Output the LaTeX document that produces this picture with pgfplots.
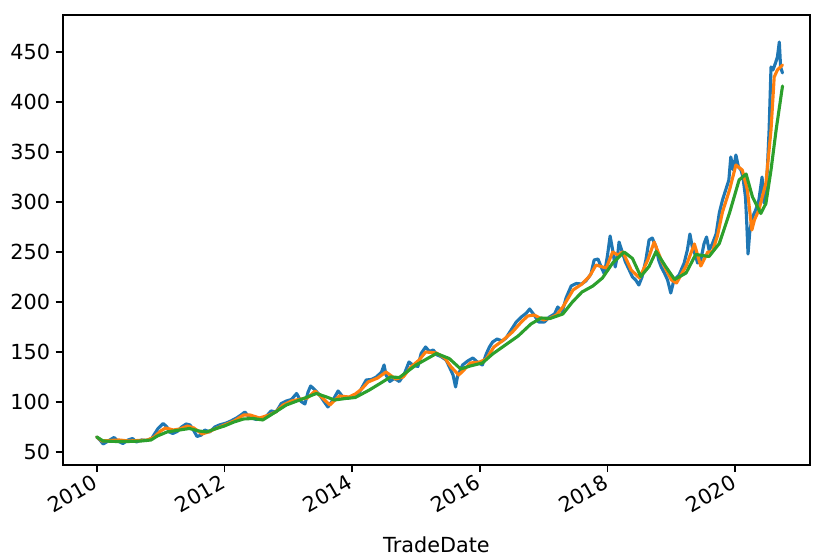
\documentclass[border=0pt]{standalone}
\usepackage{fontspec}
\setmainfont{DejaVu Sans}
\usepackage{pgfplots}
\pgfplotsset{compat=1.18}
\definecolor{tabblue}{HTML}{1F77B4}
\definecolor{taborange}{HTML}{FF7F0E}
\definecolor{tabgreen}{HTML}{2CA02C}
\begin{document}
\begin{tikzpicture}
\begin{axis}[
  at={(0,0)}, anchor=south west,
  scale only axis, width=358.6bp, height=216bp,
  xmin=2009.47, xmax=2021.17, ymin=37, ymax=487,
  xtick={2010,2012,2014,2016,2018,2020},
  ytick={50,100,150,200,250,300,350,400,450},
  /pgf/number format/1000 sep={},
  /pgf/number format/assume math mode=true,
  tick align=outside, major tick length=3.5pt,
  tick style={black, line width=0.8pt},
  axis line style={line width=0.8pt},
  xtick pos=bottom, ytick pos=left,
  tick label style={font=\fontsize{10}{12}\selectfont},
  xticklabel style={xshift=-2.2pt, yshift=1pt, rotate=30, anchor=north east, inner sep=1pt},
  yticklabel style={anchor=east, inner sep=1pt, xshift=-1.5pt},
  xlabel={TradeDate},
  xlabel style={at={(axis description cs:0.5,-0.178)}, anchor=center, font=\fontsize{10}{12}\selectfont},
  every axis plot/.append style={line width=1.5pt, line join=round, line cap=round},
  clip=true,
]
\addplot[tabblue] coordinates {
(2010.00,65) (2010.05,62) (2010.10,58) (2010.18,61) (2010.27,64.5) (2010.33,61) (2010.41,58.5) (2010.49,62) (2010.56,63.5) (2010.62,60) (2010.70,62) (2010.78,61.5) (2010.86,63.5) (2010.91,68.5) (2010.96,73.5)
(2011.04,78.5) (2011.10,75) (2011.14,70) (2011.19,68.5) (2011.26,70.5) (2011.33,75) (2011.40,78) (2011.46,77) (2011.51,72.5) (2011.57,65.5) (2011.64,67) (2011.69,72) (2011.77,70) (2011.85,75) (2011.92,77)
(2012.03,79) (2012.10,81) (2012.19,84) (2012.26,87) (2012.32,90) (2012.39,84.5) (2012.50,82.5) (2012.58,83.5) (2012.66,86) (2012.73,91) (2012.81,90) (2012.89,98.5) (2012.97,101)
(2013.05,102.5) (2013.13,108.5) (2013.20,100.5) (2013.26,98) (2013.31,110) (2013.35,116) (2013.41,112.5) (2013.49,107) (2013.57,99.5) (2013.62,95) (2013.70,102) (2013.78,111) (2013.85,105.5) (2013.93,103.5)
(2014.04,107) (2014.12,110.5) (2014.22,122) (2014.30,122.5) (2014.38,125) (2014.46,130) (2014.50,137) (2014.53,127) (2014.59,120.5) (2014.66,123.5) (2014.74,120.5) (2014.82,128.5) (2014.89,140) (2014.95,137)
(2015.03,135.5) (2015.08,148.5) (2015.15,155) (2015.21,150.5) (2015.27,152) (2015.33,147) (2015.39,145.5) (2015.47,142) (2015.52,135.5) (2015.58,127) (2015.62,115) (2015.65,125.5) (2015.73,137) (2015.81,141) (2015.89,144) (2015.97,139.5)
(2016.04,137) (2016.10,148) (2016.15,155) (2016.20,160) (2016.27,163) (2016.35,161) (2016.41,164) (2016.49,172) (2016.57,180) (2016.65,185) (2016.73,189) (2016.78,193) (2016.85,187) (2016.92,180)
(2017.01,180) (2017.09,185) (2017.17,188) (2017.22,195) (2017.29,190) (2017.35,204) (2017.43,216) (2017.51,218.5) (2017.59,218) (2017.66,221) (2017.74,228) (2017.79,242) (2017.85,243) (2017.90,235) (2017.95,228)
(2018.00,247) (2018.04,266) (2018.08,252) (2018.12,235) (2018.16,248) (2018.18,260) (2018.22,252) (2018.28,240) (2018.34,232) (2018.39,225) (2018.44,222) (2018.49,217) (2018.54,225) (2018.60,242) (2018.65,262) (2018.70,264) (2018.76,255) (2018.80,242) (2018.84,235) (2018.89,229) (2018.94,222) (2018.99,209)
(2019.04,222) (2019.12,227) (2019.20,239) (2019.25,252) (2019.29,268) (2019.33,254) (2019.38,246) (2019.41,239) (2019.46,242) (2019.51,258) (2019.55,265) (2019.59,252) (2019.64,258) (2019.70,268) (2019.75,289) (2019.80,302) (2019.85,312) (2019.90,322) (2019.93,345) (2019.97,332)
(2020.01,347) (2020.05,335) (2020.09,332) (2020.12,325) (2020.16,305) (2020.18,279) (2020.20,248) (2020.23,272) (2020.27,285) (2020.32,292) (2020.37,302) (2020.42,325) (2020.45,299) (2020.49,315) (2020.53,372) (2020.56,435) (2020.59,432) (2020.63,439) (2020.66,445) (2020.69,460) (2020.71,435) (2020.74,429)
};
\addplot[taborange] coordinates {
(2010.00,65) (2010.08,61) (2010.20,61.5) (2010.35,62) (2010.50,61) (2010.65,61.5) (2010.80,62) (2010.90,65)
(2011.00,71) (2011.08,74) (2011.20,72) (2011.30,73) (2011.42,76) (2011.52,74) (2011.65,68) (2011.75,70) (2011.85,73)
(2012.00,77) (2012.15,81) (2012.30,87) (2012.40,87) (2012.55,84) (2012.70,87) (2012.80,90) (2012.92,97)
(2013.05,101) (2013.20,103) (2013.30,104) (2013.42,111) (2013.52,105) (2013.65,97) (2013.80,106) (2013.95,105)
(2014.05,108) (2014.15,113) (2014.25,120) (2014.40,124) (2014.53,130) (2014.68,123) (2014.80,125) (2014.92,135)
(2015.05,142) (2015.15,150) (2015.32,149) (2015.45,144) (2015.55,135) (2015.67,127) (2015.75,132) (2015.85,139)
(2016.00,140) (2016.10,143) (2016.22,155) (2016.35,161) (2016.51,170) (2016.65,180) (2016.75,186) (2016.85,187)
(2017.00,182) (2017.10,184) (2017.20,187) (2017.30,195) (2017.46,212) (2017.60,218) (2017.72,226) (2017.82,237) (2017.92,235)
(2017.98,234) (2018.08,250) (2018.16,247) (2018.24,250) (2018.37,232) (2018.50,224) (2018.63,242) (2018.73,260) (2018.84,242)
(2019.00,222) (2019.08,219) (2019.23,236) (2019.36,258) (2019.46,236) (2019.57,250) (2019.64,250) (2019.72,266) (2019.80,290) (2019.91,312)
(2020.01,337) (2020.11,332) (2020.19,312) (2020.26,272) (2020.30,282) (2020.37,292) (2020.48,319) (2020.56,372) (2020.61,425) (2020.66,432) (2020.74,437)
};
\addplot[tabgreen] coordinates {
(2010.00,65) (2010.10,61) (2010.30,60.5) (2010.50,60.5) (2010.70,61) (2010.85,62) (2010.95,66)
(2011.10,70) (2011.30,72) (2011.45,73.5) (2011.60,71) (2011.72,70) (2011.85,73)
(2012.00,76) (2012.15,80) (2012.30,83) (2012.45,83.5) (2012.60,82) (2012.75,88) (2012.97,97)
(2013.18,102) (2013.44,108.5) (2013.60,105) (2013.72,102) (2013.90,103.5)
(2014.05,104.5) (2014.27,112) (2014.45,119) (2014.60,125) (2014.74,124.5)
(2015.00,137) (2015.32,148.5) (2015.52,143.5) (2015.70,133) (2015.85,136)
(2016.04,139) (2016.20,148) (2016.40,157) (2016.60,166) (2016.80,178) (2016.96,184)
(2017.10,183.5) (2017.30,188) (2017.45,200) (2017.60,210) (2017.77,216) (2017.92,224)
(2018.08,239) (2018.26,250) (2018.39,243.5) (2018.52,225.5) (2018.65,235.5) (2018.76,250.5) (2018.91,235.5)
(2019.05,222.5) (2019.23,229) (2019.38,247.5) (2019.59,245.5) (2019.75,258.5) (2019.91,289)
(2020.06,322) (2020.17,328) (2020.27,305) (2020.40,288.5) (2020.48,298.5) (2020.56,332) (2020.64,372) (2020.74,416)
};
\end{axis}
\pgfresetboundingbox
\useasboundingbox (-30.2bp,-43.2bp) rectangle (366.3bp,223.2bp);
\end{tikzpicture}
\end{document}
